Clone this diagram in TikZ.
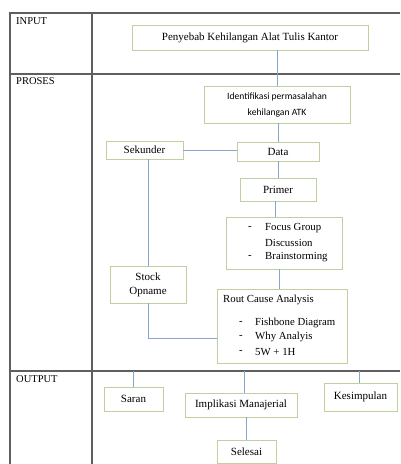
\documentclass[tikz,border=0pt]{standalone}
\usepackage{fontspec}
\setmainfont{Liberation Serif}
\newfontfamily\calib{Carlito}
\definecolor{boxgreen}{RGB}{190,208,160}
\definecolor{linkblue}{RGB}{135,165,210}
\definecolor{tablegray}{RGB}{95,95,95}
\tikzset{
  stepbox/.style={draw=boxgreen, line width=0.9pt, rectangle, inner sep=0pt, font=\fontsize{11}{13}\selectfont},
  link/.style={draw=linkblue, line width=0.9pt},
  grid/.style={draw=tablegray, line width=1.1pt},
  lbl/.style={anchor=north west, inner sep=0pt, font=\fontsize{10.5}{12}\selectfont},
  txt/.style={anchor=west, inner sep=0pt, font=\fontsize{10.8}{12.5}\selectfont}
}
\begin{document}
\begin{tikzpicture}[x=1pt,y=-1pt]
\useasboundingbox (0,0) rectangle (400,464);
% table
\draw[grid] (10,464) -- (10,13) -- (400,13);
\draw[grid] (92,13) -- (92,464);
\draw[grid] (10,74) -- (400,74);
\draw[grid] (10,371) -- (400,371);
\node[lbl] (tin) at (16,17) {INPUT};
\node[lbl] (tpr) at (16,77) {PROSES};
\node[lbl] (tout) at (16,375) {OUTPUT};
% nodes
\node[stepbox, minimum width=236, minimum height=25] (peny) at (250,37.5) {Penyebab Kehilangan Alat Tulis Kantor};
\node[stepbox, minimum width=146, minimum height=37, align=center, font=\calib\fontsize{9.6}{16}\selectfont] (ident) at (277,104.5) {Identifikasi permasalahan\\kehilangan ATK};
\node[stepbox, minimum width=82, minimum height=19] (data) at (278,151.5) {Data};
\node[stepbox, minimum width=77, minimum height=18] (sek) at (144.5,150) {Sekunder};
\node[stepbox, minimum width=76, minimum height=23] (prim) at (278,189.5) {Primer};
\node[stepbox, minimum width=116, minimum height=52] (focus) at (284,243) {};
\node[txt] (f1) at (248,228) {-};
\node[txt] (f2) at (265,228) {Focus Group};
\node[txt] (f3) at (265,243) {Discussion};
\node[txt] (f4) at (248,257) {-};
\node[txt] (f5) at (265,257) {Brainstorming};
\node[stepbox, minimum width=76, minimum height=37, align=center, font=\fontsize{11}{14}\selectfont] (stock) at (148,284.5) {Stock\\Opname};
\node[stepbox, minimum width=130, minimum height=74] (rca) at (282,326) {};
\node[txt] (r0) at (223,300) {Rout Cause Analysis};
\node[txt] (r1) at (239,323) {-};
\node[txt] (r2) at (255,323) {Fishbone Diagram};
\node[txt] (r3) at (239,337) {-};
\node[txt] (r4) at (255,337) {Why Analyis};
\node[txt] (r5) at (239,352) {-};
\node[txt] (r6) at (255,352) {5W + 1H};
\node[stepbox, minimum width=59, minimum height=24] (saran) at (133.5,399) {Saran};
\node[stepbox, minimum width=112, minimum height=24] (impl) at (241,405) {Implikasi Manajerial};
\node[stepbox, minimum width=73, minimum height=28] (kes) at (360.5,397) {Kesimpulan};
\node[stepbox, minimum width=59, minimum height=23] (sel) at (246.5,451.5) {Selesai};
% connectors
\draw[link] (ident.north) -- (ident.north |- peny.south);
\draw[link] (data.north) -- (data.north |- ident.south);
\draw[link] (sek.east) -- (sek.east -| data.west);
\draw[link] (data.south) -- (data.south |- prim.north);
\draw[link] ([xshift=-3pt]prim.south) -- ([xshift=-3pt]prim.south |- focus.north);
\draw[link] ([xshift=-3pt]rca.north) -- ([xshift=-3pt]rca.north |- focus.south);
\draw[link] (stock.north) -- (stock.north |- sek.south);
\coordinate (elbow) at (148,338);
\draw[link] (stock.south) -- (elbow) -- (elbow -| rca.west);
\coordinate (os) at (133.5,371);
\coordinate (oi) at (244,371);
\coordinate (ok) at (359,371);
\draw[link] (os) -- (saran.north);
\draw[link] (oi) -- (oi |- impl.north);
\draw[link] (ok) -- (ok |- kes.north);
\draw[link] (impl.south -| sel.north) -- (sel.north);
\end{tikzpicture}
\end{document}
